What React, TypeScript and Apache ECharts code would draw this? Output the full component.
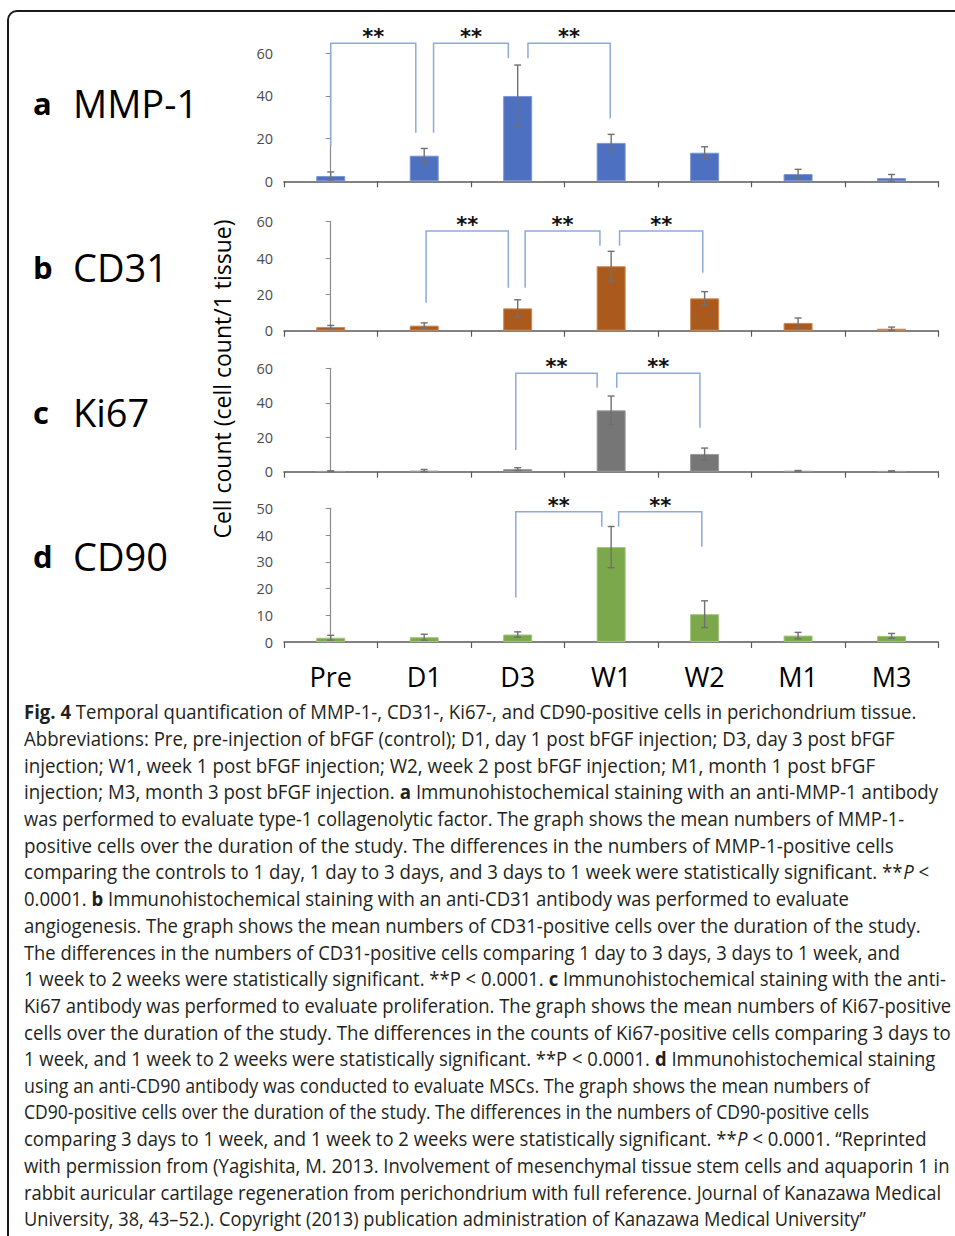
import React, { useEffect, useRef } from "react";
import * as echarts from "echarts";

const categories = ["Pre", "D1", "D3", "W1", "W2", "M1", "M3"];

const mmp1Mean = [2.5, 12, 40, 18, 13.4, 3.4, 1.5];
const mmp1Err = [1.9, 3.4, 14.5, 4, 2.8, 2.2, 1.7];
const cd31Mean = [2, 2.8, 12.3, 35.5, 17.8, 4.3, 1.1];
const cd31Err = [0.9, 1.5, 4.7, 8.2, 3.7, 2.7, 0.9];
const ki67Mean = [0.3, 0.5, 1.5, 35.6, 10.3, 0.4, 0.3];
const ki67Err = [0.2, 0.8, 0.8, 8.3, 3.4, 0.3, 0.2];
const cd90Mean = [1.6, 1.8, 2.8, 35.5, 10.4, 2.4, 2.3];
const cd90Err = [0.9, 1.1, 1, 7.7, 5, 1.2, 0.9];

// significance brackets: [xStart, xEnd, yTop, yStartEnd, yEndEnd] in category index / value units
const mmp1Brackets = [
  [0.0, 0.91, 64.7, 16.2, 22.8],
  [1.1, 1.9, 64.7, 22.8, 57.7],
  [2.11, 2.99, 64.7, 57.7, 29.5],
];
const cd31Brackets = [
  [1.02, 1.9, 54.9, 15.4, 23.7],
  [2.08, 2.88, 54.9, 23.7, 46.8],
  [3.09, 3.98, 54.9, 46.8, 31.9],
];
const ki67Brackets = [
  [1.98, 2.85, 57.1, 12.6, 48.7],
  [3.06, 3.95, 57.1, 48.7, 25.5],
];
const cd90Brackets = [
  [1.98, 2.9, 48.7, 16.6, 43.1],
  [3.08, 3.97, 48.7, 43.1, 35.6],
];

const yTitle = "Cell count (cell count/1 tissue)";

const captionLines = [
  "{b|Fig. 4} Temporal quantification of MMP-1-, CD31-, Ki67-, and CD90-positive cells in perichondrium tissue.",
  "Abbreviations: Pre, pre-injection of bFGF (control); D1, day 1 post bFGF injection; D3, day 3 post bFGF",
  "injection; W1, week 1 post bFGF injection; W2, week 2 post bFGF injection; M1, month 1 post bFGF",
  "injection; M3, month 3 post bFGF injection. {b|a} Immunohistochemical staining with an anti-MMP-1 antibody",
  "was performed to evaluate type-1 collagenolytic factor. The graph shows the mean numbers of MMP-1-",
  "positive cells over the duration of the study. The differences in the numbers of MMP-1-positive cells",
  "comparing the controls to 1 day, 1 day to 3 days, and 3 days to 1 week were statistically significant. **{i|P} <",
  "0.0001. {b|b} Immunohistochemical staining with an anti-CD31 antibody was performed to evaluate",
  "angiogenesis. The graph shows the mean numbers of CD31-positive cells over the duration of the study.",
  "The differences in the numbers of CD31-positive cells comparing 1 day to 3 days, 3 days to 1 week, and",
  "1 week to 2 weeks were statistically significant. **P < 0.0001. {b|c} Immunohistochemical staining with the anti-",
  "Ki67 antibody was performed to evaluate proliferation. The graph shows the mean numbers of Ki67-positive",
  "cells over the duration of the study. The differences in the counts of Ki67-positive cells comparing 3 days to",
  "1 week, and 1 week to 2 weeks were statistically significant. **P < 0.0001. {b|d} Immunohistochemical staining",
  "using an anti-CD90 antibody was conducted to evaluate MSCs. The graph shows the mean numbers of",
  "CD90-positive cells over the duration of the study. The differences in the numbers of CD90-positive cells",
  "comparing 3 days to 1 week, and 1 week to 2 weeks were statistically significant. **{i|P} < 0.0001. \u201cReprinted",
  "with permission from (Yagishita, M. 2013. Involvement of mesenchymal tissue stem cells and aquaporin 1 in",
  "rabbit auricular cartilage regeneration from perichondrium with full reference. Journal of Kanazawa Medical",
  "University, 38, 43\u201352.). Copyright (2013) publication administration of Kanazawa Medical University\u201d",
];
const captionLineEnds = [917, 895, 876, 938, 905, 895, 929, 850, 922, 900, 946, 952, 951, 935, 870, 870, 927, 950, 942, 866];

const panels = [
  { mean: mmp1Mean, err: mmp1Err, brackets: mmp1Brackets, color: "#4e70c1", border: "#7d96d6", max: 60, interval: 20, top: 53.3, height: 128, letter: "a", name: "MMP-1", labelY: 103 },
  { mean: cd31Mean, err: cd31Err, brackets: cd31Brackets, color: "#ab5a1e", border: "#d08a55", max: 60, interval: 20, top: 221.7, height: 109, letter: "b", name: "CD31", labelY: 267 },
  { mean: ki67Mean, err: ki67Err, brackets: ki67Brackets, color: "#767676", border: "#9a9a9a", max: 60, interval: 20, top: 368.3, height: 103.4, letter: "c", name: "Ki67", labelY: 412 },
  { mean: cd90Mean, err: cd90Err, brackets: cd90Brackets, color: "#7ba84a", border: "#a3c67c", max: 50, interval: 10, top: 508.3, height: 133.7, letter: "d", name: "CD90", labelY: 556 },
];

const FONT = '"Open Sans", "DejaVu Sans", sans-serif';

function measureLine(ctx: CanvasRenderingContext2D, line: string, size: number) {
  const re = /\{(b|i)\|([^}]*)\}/g;
  let w = 0;
  let last = 0;
  let m: RegExpExecArray | null;
  while ((m = re.exec(line))) {
    ctx.font = `${size}px "Open Sans"`;
    w += ctx.measureText(line.slice(last, m.index)).width;
    ctx.font = `${m[1] === "b" ? "bold" : "italic"} ${size}px "Open Sans"`;
    w += ctx.measureText(m[2]).width;
    last = re.lastIndex;
  }
  ctx.font = `${size}px "Open Sans"`;
  w += ctx.measureText(line.slice(last)).width;
  return w;
}

export default function App() {
  const ref = useRef<HTMLDivElement>(null);
  useEffect(() => {
    document.body.style.margin = "0";
    if (!ref.current) return;
    const chart = echarts.init(ref.current, undefined, { renderer: "svg" });

    const grids: any[] = [];
    const xAxes: any[] = [];
    const yAxes: any[] = [];
    const series: any[] = [];
    const graphics: any[] = [];

    panels.forEach((p, k) => {
      grids.push({ left: 284, width: 654.3, top: p.top, height: p.height });
      xAxes.push({
        type: "category",
        gridIndex: k,
        data: categories,
        axisLine: { show: true, lineStyle: { color: "#595959", width: 1.5 } },
        axisTick: { show: true, length: 6, interval: 0, lineStyle: { color: "#595959", width: 1.2 } },
        axisLabel: {
          show: k === 3,
          interval: 0,
          fontSize: 27,
          fontFamily: FONT,
          color: "#000",
          verticalAlign: "middle",
          margin: 34,
        },
        splitLine: { show: false },
      });
      yAxes.push({
        type: "value",
        gridIndex: k,
        min: 0,
        max: p.max,
        interval: p.interval,
        axisLine: { show: true, lineStyle: { color: "#8a8a8a", width: 1.2 } },
        axisTick: { show: true, length: 5, lineStyle: { color: "#8a8a8a" } },
        axisLabel: { fontSize: 14.5, fontFamily: FONT, color: "#4d4d4d", margin: 11 },
        splitLine: { show: false },
      });
      series.push({
        type: "bar",
        xAxisIndex: k,
        yAxisIndex: k,
        data: p.mean,
        barWidth: 29,
        itemStyle: { color: p.color, borderColor: p.border, borderWidth: 1 },
        silent: true,
      });
      series.push({
        type: "custom",
        xAxisIndex: k,
        yAxisIndex: k,
        z: 3,
        silent: true,
        data: categories.map((c, i) => [c, Math.max(0, p.mean[i] - p.err[i]), p.mean[i] + p.err[i]]),
        encode: { x: 0, y: [1, 2] },
        renderItem: (params: any, api: any) => {
          const x = api.coord([api.value(0), 0])[0];
          const lo = api.coord([api.value(0), api.value(1)])[1];
          const hi = api.coord([api.value(0), api.value(2)])[1];
          const hw = 3.5;
          const st = { stroke: "#707070", lineWidth: 1.4 };
          return {
            type: "group",
            children: [
              { type: "line", shape: { x1: x, y1: lo, x2: x, y2: hi }, style: st },
              { type: "line", shape: { x1: x - hw, y1: hi, x2: x + hw, y2: hi }, style: st },
              { type: "line", shape: { x1: x - hw, y1: lo, x2: x + hw, y2: lo }, style: st },
            ],
          };
        },
      });
      graphics.push({
        type: "text",
        x: 33,
        y: p.labelY,
        style: { text: p.letter, font: `bold 31px ${FONT}`, fill: "#000", textAlign: "left", textVerticalAlign: "middle", align: "left", verticalAlign: "middle" },
      });
      graphics.push({
        type: "text",
        x: 73,
        y: p.labelY,
        style: { text: p.name, font: `38px ${FONT}`, fill: "#000", textAlign: "left", textVerticalAlign: "middle", align: "left", verticalAlign: "middle" },
      });
    });

    // hidden value axes for bracket annotations
    panels.forEach((p, k) => {
      xAxes.push({ type: "value", gridIndex: k, min: -0.5, max: 6.5, show: false });
      series.push({
        type: "custom",
        xAxisIndex: 4 + k,
        yAxisIndex: k,
        z: 4,
        silent: true,
        clip: false,
        data: p.brackets,
        encode: { x: [0, 1], y: [2, 3, 4] },
        renderItem: (params: any, api: any) => {
          const x1 = api.coord([api.value(0), 0])[0];
          const x2 = api.coord([api.value(1), 0])[0];
          const yTop = api.coord([0, api.value(2)])[1];
          const y1 = api.coord([0, api.value(3)])[1];
          const y2 = api.coord([0, api.value(4)])[1];
          return {
            type: "group",
            children: [
              {
                type: "polyline",
                shape: { points: [[x1, y1], [x1, yTop], [x2, yTop], [x2, y2]] },
                style: { stroke: "#8eaadb", lineWidth: 1.5, fill: null },
              },
              {
                type: "text",
                x: (x1 + x2) / 2,
                y: yTop - 6,
                style: { text: "**", font: `bold 21px "DejaVu Sans"`, fill: "#111", textAlign: "center", textVerticalAlign: "middle", align: "center", verticalAlign: "middle" },
              },
            ],
          };
        },
      });
    });

    // frame
    graphics.push({
      type: "rect",
      shape: { x: 8, y: 11, width: 1000, height: 1300, r: 9 },
      style: { fill: "none", stroke: "#1a1a1a", lineWidth: 2 },
      z: -1,
    });

    // y-axis title
    graphics.push({
      type: "text",
      x: 222,
      y: 379,
      rotation: Math.PI / 2,
      style: { text: yTitle, font: `23px ${FONT}`, fill: "#000", textAlign: "center", textVerticalAlign: "middle", align: "center", verticalAlign: "middle" },
    });

    // caption
    const canvas = document.createElement("canvas");
    const ctx = canvas.getContext("2d") as CanvasRenderingContext2D;
    const size = 20;
    captionLines.forEach((line, i) => {
      const w = measureLine(ctx, line, size);
      const sx = w > 0 ? (captionLineEnds[i] - 24) / w : 0.8;
      graphics.push({
        type: "text",
        x: 24,
        y: 711.5 + i * 26.7,
        scaleX: sx,
        style: {
          text: line,
          fontSize: size,
          fontFamily: FONT,
          fill: "#231f20",
          textAlign: "left",
          textVerticalAlign: "middle",
          align: "left",
          verticalAlign: "middle",
          rich: {
            b: { fontWeight: "bold", fontSize: size, fontFamily: FONT, fill: "#231f20" },
            i: { fontStyle: "italic", fontSize: size, fontFamily: FONT, fill: "#231f20" },
          },
        },
      });
    });

    chart.setOption({
      animation: false,
      backgroundColor: "#fff",
      grid: grids,
      xAxis: xAxes,
      yAxis: yAxes,
      series,
      graphic: { elements: graphics },
    });
    return () => chart.dispose();
  }, []);
  return <div ref={ref} style={{ width: 955, height: 1236 }} />;
}
